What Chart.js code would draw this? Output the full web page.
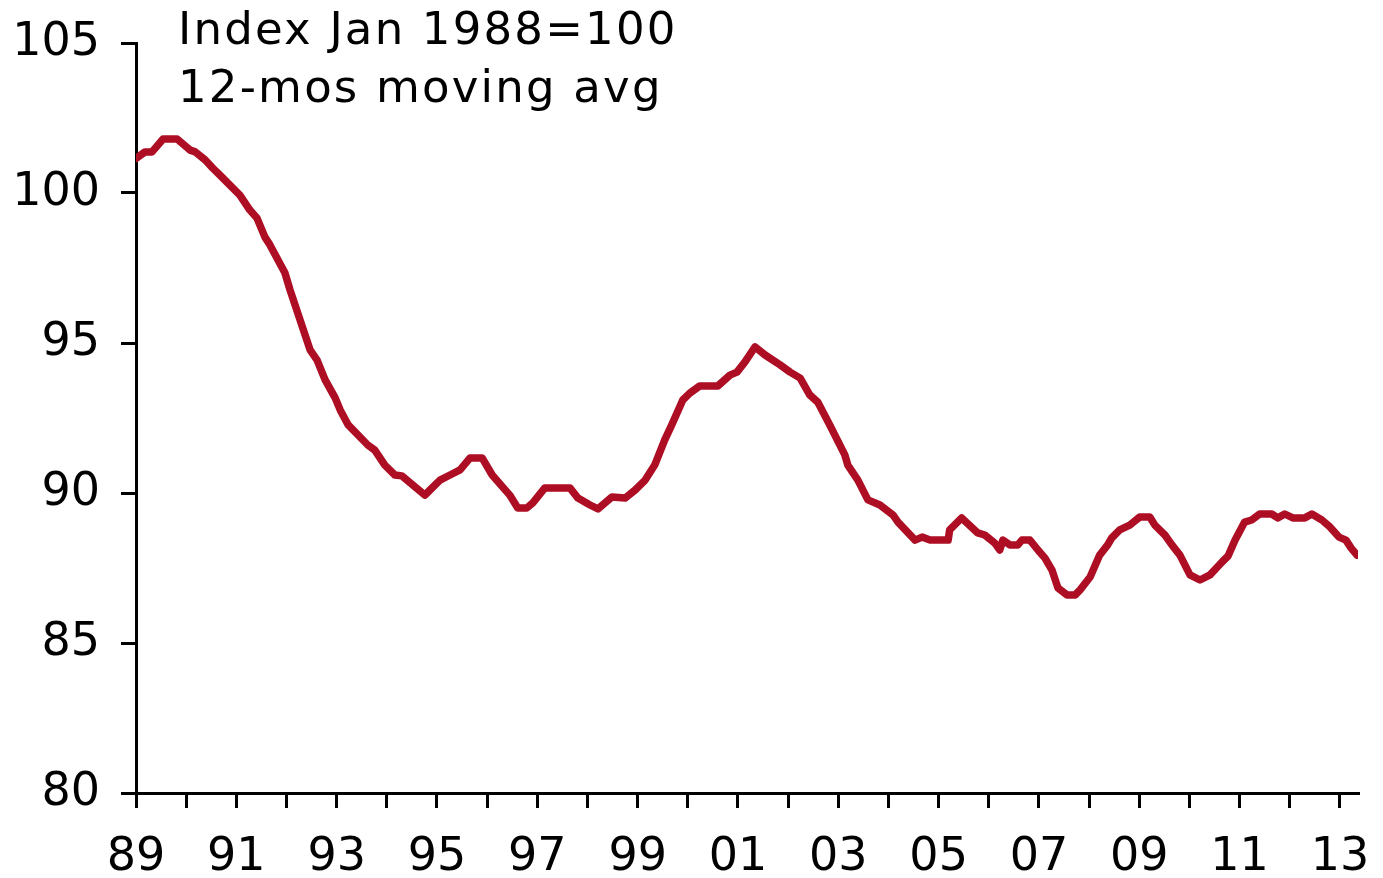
<!DOCTYPE html>
<html>
<head>
<meta charset="utf-8">
<script src="https://cdn.jsdelivr.net/npm/chart.js@4.4.1/dist/chart.umd.min.js"></script>
<style>
    html, body { margin: 0; padding: 0; background: #fff; }
    #wrap { width: 1383px; height: 878px; }
</style>
</head>
<body>
<div id="wrap"><canvas id="grafico"></canvas></div>
<script>
// valores (ano decimal, índice)
const anos = [
    1989.00, 1989.18, 1989.32, 1989.54, 1989.82, 1990.08, 1990.18, 1990.38, 1990.53, 1990.67,
    1991.07, 1991.27, 1991.41, 1991.57, 1991.67, 1991.97, 1992.07, 1992.27, 1992.47, 1992.61,
    1992.77, 1992.97, 1993.07, 1993.23, 1993.62, 1993.76, 1993.96, 1994.16, 1994.30, 1994.76,
    1994.86, 1995.06, 1995.26, 1995.46, 1995.66, 1995.90, 1996.10, 1996.45, 1996.61, 1996.79,
    1996.91, 1997.15, 1997.65, 1997.81, 1998.05, 1998.21, 1998.49, 1998.75, 1998.95, 1999.15,
    1999.34, 1999.54, 1999.68, 1999.90, 2000.04, 2000.24, 2000.60, 2000.84, 2000.98, 2001.14,
    2001.34, 2001.54, 2001.84, 2002.04, 2002.24, 2002.43, 2002.59, 2002.83, 2003.13, 2003.19,
    2003.39, 2003.59, 2003.83, 2004.09, 2004.19, 2004.53, 2004.67, 2004.83, 2005.19, 2005.22,
    2005.46, 2005.78, 2005.92, 2006.12, 2006.22, 2006.28, 2006.42, 2006.58, 2006.66, 2006.82,
    2006.98, 2007.12, 2007.26, 2007.38, 2007.56, 2007.72, 2007.82, 2008.02, 2008.21, 2008.37,
    2008.45, 2008.61, 2008.81, 2009.01, 2009.21, 2009.31, 2009.51, 2009.65, 2009.81, 2010.01,
    2010.21, 2010.41, 2010.65, 2010.77, 2010.91, 2011.10, 2011.24, 2011.40, 2011.64, 2011.76,
    2011.90, 2012.06, 2012.30, 2012.44, 2012.64, 2012.80, 2012.98, 2013.12, 2013.22, 2013.34
];
const indice = [
    101.15, 101.37, 101.37, 101.80, 101.80, 101.43, 101.37, 101.10, 100.83, 100.60,
    99.93, 99.43, 99.17, 98.53, 98.27, 97.33, 96.77, 95.77, 94.77, 94.43,
    93.77, 93.17, 92.77, 92.27, 91.60, 91.43, 90.93, 90.60, 90.57, 89.93,
    90.10, 90.43, 90.60, 90.77, 91.17, 91.17, 90.60, 89.93, 89.50, 89.50,
    89.67, 90.17, 90.17, 89.83, 89.60, 89.47, 89.87, 89.83, 90.10, 90.43,
    90.93, 91.77, 92.27, 93.10, 93.33, 93.57, 93.57, 93.93, 94.03, 94.37,
    94.87, 94.60, 94.27, 94.03, 93.83, 93.27, 93.03, 92.27, 91.27, 90.93,
    90.43, 89.77, 89.60, 89.27, 89.03, 88.43, 88.53, 88.43, 88.43, 88.77,
    89.17, 88.67, 88.60, 88.33, 88.10, 88.43, 88.27, 88.27, 88.43, 88.43,
    88.10, 87.83, 87.43, 86.83, 86.60, 86.60, 86.77, 87.20, 87.93, 88.27,
    88.50, 88.77, 88.93, 89.20, 89.20, 88.93, 88.60, 88.27, 87.93, 87.27,
    87.10, 87.27, 87.70, 87.90, 88.43, 89.03, 89.10, 89.30, 89.30, 89.17,
    89.30, 89.17, 89.17, 89.30, 89.10, 88.87, 88.53, 88.43, 88.17, 87.93
];
const ticksY = [80, 85, 90, 95, 100, 105];
const titulo = ['Index Jan 1988=100', '12-mos moving avg'];

const fonte = '"DejaVu Sans", Verdana, sans-serif';

// texto do cabeçalho dentro do gráfico
const cabecalho = {
    id: 'cabecalho',
    afterDraw(chart) {
        const ctx = chart.ctx;
        ctx.save();
        ctx.font = '45px ' + fonte;
        ctx.letterSpacing = '2.2px';
        ctx.fillStyle = '#000';
        ctx.textBaseline = 'alphabetic';
        ctx.fillText(titulo[0], 178, 44);
        ctx.fillText(titulo[1], 178, 102);
        ctx.restore();
    }
};

new Chart(document.getElementById('grafico'), {
    type: 'line',
    data: {
        datasets: [{
            data: anos.map((a, i) => ({ x: a, y: indice[i] })),
            borderColor: '#AE0E24',
            borderWidth: 7.5,
            borderJoinStyle: 'round',
            borderCapStyle: 'round',
            pointRadius: 0,
            tension: 0,
            fill: false
        }]
    },
    options: {
        responsive: true,
        maintainAspectRatio: false,
        animation: false,
        layout: { autoPadding: false, padding: { top: 43, right: 25, left: 0, bottom: 0 } },
        plugins: {
            legend: { display: false },
            tooltip: { enabled: false }
        },
        scales: {
            x: {
                type: 'linear',
                min: 1989,
                max: 2013.36,
                afterFit: (s) => {
                    s.height = 85;
                    s.paddingLeft = 0;
                    s.paddingRight = 0;
                },
                border: { color: '#000', width: 3 },
                grid: {
                    drawOnChartArea: false,
                    drawTicks: true,
                    tickLength: 15,
                    color: '#000',
                    lineWidth: 3
                },
                ticks: {
                    stepSize: 1,
                    includeBounds: false,
                    autoSkip: false,
                    maxRotation: 0,
                    padding: 22,
                    color: '#000',
                    font: { family: fonte, size: 46 },
                    callback: (v) => (v % 2 === 1 ? String(v).slice(2) : '')
                }
            },
            y: {
                min: ticksY[0],
                max: ticksY[ticksY.length - 1],
                afterFit: (s) => {
                    s.width = 136;
                    s.paddingTop = 0;
                    s.paddingBottom = 0;
                },
                afterBuildTicks: (s) => { s.ticks = ticksY.map(v => ({ value: v })); },
                border: { color: '#000', width: 3 },
                grid: {
                    drawOnChartArea: false,
                    drawTicks: true,
                    tickLength: 15,
                    color: '#000',
                    lineWidth: 3
                },
                ticks: {
                    padding: 21,
                    color: '#000',
                    font: { family: fonte, size: 46 }
                }
            }
        }
    },
    plugins: [cabecalho]
});
</script>
</body>
</html>
